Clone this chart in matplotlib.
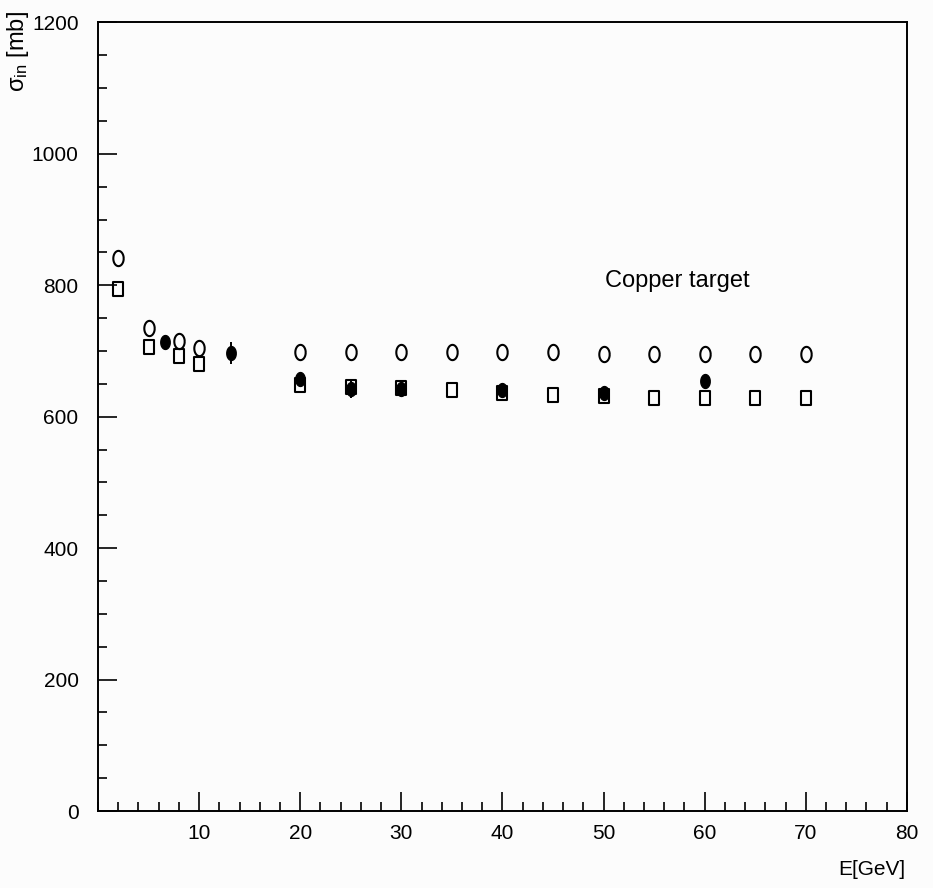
import numpy as np
import matplotlib
matplotlib.use("Agg")
import matplotlib.pyplot as plt
from matplotlib.path import Path
from matplotlib.ticker import MultipleLocator
from matplotlib import font_manager

names = {f.name for f in font_manager.fontManager.ttflist}
families = [f for f in ['Liberation Sans Narrow', 'DejaVu Sans Condensed',
                        'Liberation Sans', 'DejaVu Sans'] if f in names]
plt.rcParams['font.family'] = families
plt.rcParams['mathtext.fontset'] = 'custom'
plt.rcParams['mathtext.rm'] = families[0]
plt.rcParams['mathtext.it'] = families[0]

# model curves (open symbols)
e_model = [2, 5, 8, 10, 20, 25, 30, 35, 40, 45, 50, 55, 60, 65, 70]
sigma_circ = [841, 735, 715, 704, 698, 698, 698, 698, 698, 698, 695, 695, 695, 695, 695]
sigma_sq = [795, 706, 692, 680, 648, 646, 643, 640, 636, 633, 631, 629, 629, 629, 629]

# measured points (filled)
e_data = [6.6, 13.2, 20, 25, 30, 40, 50, 60]
sigma_data = [713, 697, 658, 642, 642, 641, 636, 654]
sigma_err = [8, 16, 8, 14, 8, 8, 8, 10]

# tall, narrow symbols
w = 0.68
theta = np.linspace(0, 2*np.pi, 40)
ellipse = Path(np.column_stack([w*np.cos(theta), np.sin(theta)]))
rect = Path([(-w, -1), (w, -1), (w, 1), (-w, 1), (-w, -1)],
            [Path.MOVETO, Path.LINETO, Path.LINETO, Path.LINETO, Path.CLOSEPOLY])

fig = plt.figure(figsize=(9.33, 8.88), dpi=100)
fig.patch.set_facecolor('#fcfcfc')
ax = fig.add_axes([0.105, 0.0867, 0.867, 0.888])
ax.set_facecolor('#fcfcfc')

ax.plot(e_model, sigma_circ, linestyle='none', marker=ellipse, markersize=11,
        mfc='none', mec='black', mew=1.5)
ax.plot(e_model, sigma_sq, linestyle='none', marker=rect, markersize=10.5,
        mfc='none', mec='black', mew=1.5)
ax.errorbar(e_data, sigma_data, yerr=sigma_err, fmt='none', ecolor='black',
            elinewidth=1.4, capsize=0)
ax.plot(e_data, sigma_data, linestyle='none', marker=ellipse, markersize=10,
        mfc='black', mec='black', mew=1)

ax.set_xlim(0, 80)
ax.set_ylim(0, 1200)
ax.xaxis.set_major_locator(MultipleLocator(10))
ax.xaxis.set_minor_locator(MultipleLocator(2))
ax.yaxis.set_major_locator(MultipleLocator(200))
ax.yaxis.set_minor_locator(MultipleLocator(50))
ax.set_xticks(np.arange(10, 81, 10))
ax.set_xticklabels([str(v) for v in range(10, 81, 10)])

for s in ax.spines.values():
    s.set_linewidth(1.4)
ax.tick_params(which='both', direction='in', width=1.2, labelsize=15,
               top=False, right=False)
ax.tick_params(which='major', length=13.5)
ax.tick_params(which='minor', length=6.8)
ax.tick_params(axis='y', pad=14)
ax.tick_params(axis='x', pad=9)

ax.text(0.627, 0.665, 'Copper target', transform=ax.transAxes, fontsize=17)
fig.text(0.97, 0.01, 'E[GeV]', ha='right', va='bottom', fontsize=15)
fig.text(0.019, 0.987, r'$\sigma_{in}$ [mb]', rotation=90, ha='center',
         va='top', fontsize=17)

fig.savefig('out.png', dpi=100, facecolor=fig.get_facecolor())
